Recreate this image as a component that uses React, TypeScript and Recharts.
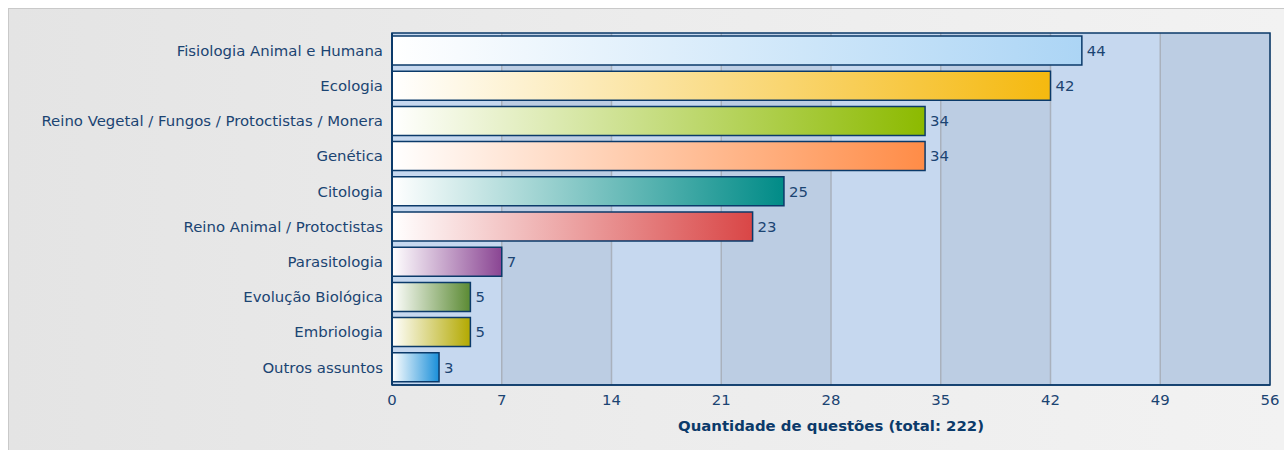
import React from 'react';
import { BarChart, Bar, XAxis, YAxis, CartesianGrid, Cell, LabelList, ReferenceArea } from 'recharts';

const categories = [
  'Fisiologia Animal e Humana',
  'Ecologia',
  'Reino Vegetal / Fungos / Protoctistas / Monera',
  'Genética',
  'Citologia',
  'Reino Animal / Protoctistas',
  'Parasitologia',
  'Evolução Biológica',
  'Embriologia',
  'Outros assuntos',
];
const questionCounts = [44, 42, 34, 34, 25, 23, 7, 5, 5, 3];
const barColors = [
  '#acd5f5', '#f5b90f', '#8cba00', '#ff8c47', '#008b87',
  '#d94646', '#8a4593', '#5b8a33', '#b3a900', '#1a8fd9',
];
const xTicks = [0, 7, 14, 21, 28, 35, 42, 49, 56];

const data = categories.map((name, i) => ({ name, value: questionCounts[i] }));

const textColor = '#1b4472';
const darkBlue = '#0b3a6a';
const fontSize = 14.9;

export default function App() {
  return (
    <div
      style={{
        position: 'fixed',
        left: 8,
        top: 8,
        boxSizing: 'border-box',
        width: 1276,
        height: 442,
        overflow: 'hidden',
        borderTop: '1px solid #c9c9c9',
        borderLeft: '1px solid #c9c9c9',
        background: 'linear-gradient(90deg, #e4e4e4 0%, #ececec 50%, #f2f2f2 100%)',
        fontFamily: '"DejaVu Sans", sans-serif',
      }}
    >
      <BarChart
        width={1275}
        height={441}
        data={data}
        layout="vertical"
        margin={{ top: 24, right: 14, bottom: 0, left: 0 }}
        barSize={29}
      >
        <defs>
          {barColors.map((c, i) => (
            <linearGradient key={i} id={`grad${i}`} x1="0" y1="0" x2="1" y2="0">
              <stop offset="0%" stopColor="#ffffff" />
              <stop offset="100%" stopColor={c} />
            </linearGradient>
          ))}
        </defs>
        <CartesianGrid
          horizontal={false}
          stroke="#a9b1bd"
          strokeWidth={1.5}
          fillOpacity={1}
          verticalFill={['#c6d8ef', '#bccde3']}
        />
        <XAxis
          type="number"
          domain={[0, 56]}
          ticks={xTicks}
          interval={0}
          height={65}
          tickLine={false}
          tickMargin={3}
          axisLine={{ stroke: darkBlue, strokeWidth: 1.5 }}
          tick={{ fill: textColor, fontSize }}
          label={{
            value: 'Quantidade de questões (total: 222)',
            position: 'insideBottom',
            offset: 19,
            fill: darkBlue,
            fontSize,
            fontWeight: 'bold',
          }}
        />
        <YAxis
          type="category"
          dataKey="name"
          width={383}
          interval={0}
          tickLine={false}
          tickSize={7}
          axisLine={{ stroke: darkBlue, strokeWidth: 2 }}
          tick={{ fill: textColor, fontSize }}
        />
        <ReferenceArea x1={0} x2={56} fill="none" stroke={darkBlue} strokeWidth={1.5} ifOverflow="visible" />
        <Bar dataKey="value" isAnimationActive={false} stroke={darkBlue} strokeWidth={1.5}>
          {data.map((_, i) => (
            <Cell key={`cell-${i}`} fill={`url(#grad${i})`} />
          ))}
          <LabelList dataKey="value" position="right" offset={5} fill={textColor} fontSize={fontSize} />
        </Bar>
      </BarChart>
    </div>
  );
}
